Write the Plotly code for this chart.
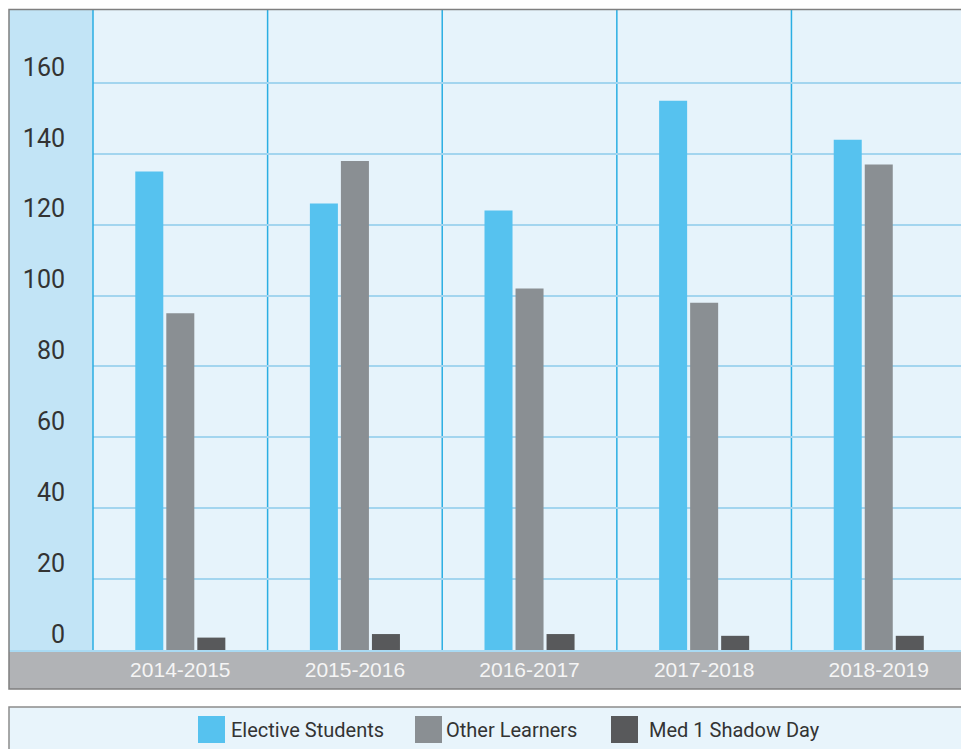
import plotly.graph_objects as go

# ---- data ----
categories = ["2014-2015", "2015-2016", "2016-2017", "2017-2018", "2018-2019"]
series_names = ["Elective Students", "Other Learners", "Med 1 Shadow Day"]
elective = [135, 126, 124, 155, 144]
other = [95, 138, 102, 98, 137]
shadow = [3.5, 4.5, 4.5, 4, 4]
y_ticks = [0, 20, 40, 60, 80, 100, 120, 140, 160]

colors = ["#56c2ef", "#8a8f93", "#58595b"]
values = [elective, other, shadow]

NARROW = "Roboto, Liberation Sans, Arial, sans-serif"
REG = "Liberation Sans, Arial, Helvetica, sans-serif"

W, H = 961, 749
ML, MR, MT, MB = 93, 0, 10, 99
PW, PH = W - ML - MR, H - MT - MB


def px_x(px):
    return (px - ML) / PW


def px_y(py):
    return (H - MB - py) / PH


xs = list(range(len(categories)))

fig = go.Figure()
for name, vals, col in zip(series_names, values, colors):
    fig.add_trace(go.Bar(x=xs, y=vals, name=name, marker=dict(color=col, line=dict(width=0)),
                         showlegend=False))

shapes = []
# left light-blue column
shapes.append(dict(type="rect", xref="paper", yref="paper", x0=px_x(9), x1=0, y0=0, y1=1,
                   fillcolor="#c2e4f6", line=dict(width=0), layer="below"))
# grey band with category labels
shapes.append(dict(type="rect", xref="paper", yref="paper", x0=px_x(9), x1=px_x(975),
                   y0=px_y(689), y1=0, fillcolor="#b1b3b6", line=dict(width=0), layer="below"))
# light blue line atop grey band
shapes.append(dict(type="line", xref="paper", yref="paper", x0=px_x(9), x1=px_x(975),
                   y0=px_y(651), y1=px_y(651), line=dict(color="#a9daf3", width=2), layer="below"))
# category separators
shapes.append(dict(type="line", xref="paper", yref="paper", x0=0, x1=0, y0=0, y1=1,
                   line=dict(color="#2aaee3", width=1.5), layer="above"))
for k in range(len(categories) - 1):
    shapes.append(dict(type="line", xref="x", yref="paper", x0=k + 0.5, x1=k + 0.5, y0=0, y1=1,
                       line=dict(color="#2aaee3", width=1.5), layer="below"))
# outer frame
shapes.append(dict(type="rect", xref="paper", yref="paper", x0=px_x(9), x1=px_x(990),
                   y0=px_y(689), y1=px_y(9.5), fillcolor="rgba(0,0,0,0)",
                   line=dict(color="#7f7f7f", width=1.5), layer="above"))
# legend box
shapes.append(dict(type="rect", xref="paper", yref="paper", x0=px_x(9), x1=px_x(990),
                   y0=px_y(770), y1=px_y(707), fillcolor="#e8f4fb",
                   line=dict(color="#8c8c8c", width=1.5), layer="below"))

annotations = []
legend_sq_x = [198, 415, 611]
legend_txt_x = [229, 444, 647]
for name, col, sx, tx in zip(series_names, colors, legend_sq_x, legend_txt_x):
    shapes.append(dict(type="rect", xref="paper", yref="paper", x0=px_x(sx), x1=px_x(sx + 27),
                       y0=px_y(743), y1=px_y(716), fillcolor=col, line=dict(width=0), layer="above"))
    annotations.append(dict(xref="paper", yref="paper", x=px_x(tx), y=px_y(729.5),
                            xanchor="left", yanchor="middle", text=name, showarrow=False,
                            font=dict(family=NARROW, size=20, color="#333333")))

fig.update_layout(
    width=W, height=H,
    margin=dict(l=ML, r=MR, t=MT, b=MB, pad=0),
    paper_bgcolor="white",
    plot_bgcolor="#e6f3fb",
    barmode="group",
    bargap=0.467,
    bargroupgap=0.097,
    shapes=shapes,
    annotations=annotations,
    xaxis=dict(range=[-0.5, 4.471], tickvals=xs, ticktext=categories, showgrid=False,
               zeroline=False, showline=False, ticks="", ticklabelstandoff=5,
               tickfont=dict(family=REG, size=21, color="#f5f5f5"), fixedrange=True),
    yaxis=dict(range=[0, (H - MB - MT) / 3.544], tickvals=y_ticks, showgrid=True,
               gridcolor="#a3d5ef", gridwidth=1.5, zeroline=False, showline=False, ticks="",
               ticklabelshift=-16, ticklabelstandoff=27,
               tickfont=dict(family=NARROW, size=25, color="#333333"), fixedrange=True),
)

fig.write_html("out.html")
